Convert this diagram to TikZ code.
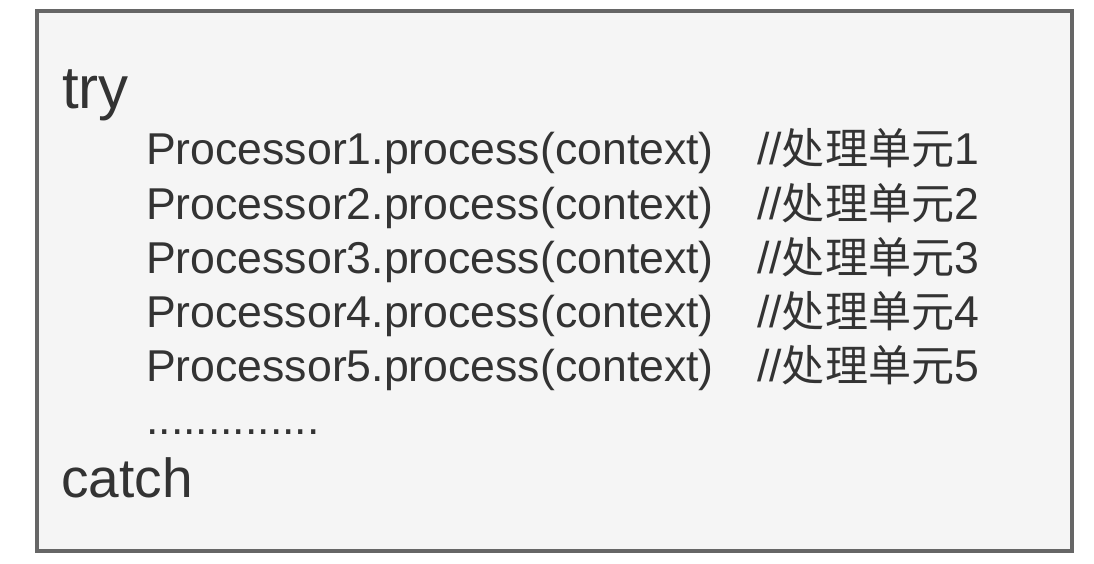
\documentclass[tikz,border=0pt]{standalone}
\usepackage{fontspec}
\usepackage{xcolor}
\setmainfont{Liberation Sans}
\newfontfamily\cjk[Scale=0.965]{Noto Sans CJK SC}
\definecolor{boxfill}{HTML}{F5F5F5}
\definecolor{boxline}{HTML}{666666}
\definecolor{codetext}{HTML}{333333}

\begin{document}
\begin{tikzpicture}[x=1pt,y=-1pt,
    code/.style={anchor=base west,inner sep=0pt,text=codetext,font=\fontsize{44.6}{54}\selectfont},
    keyword/.style={anchor=base west,inner sep=0pt,text=codetext}]
    \useasboundingbox (0,0) rectangle (1094,564);
    \draw[draw=boxline,fill=boxfill,line width=4pt] (37,11) rectangle (1072,551);

    \node[keyword,font=\fontsize{60}{60}\selectfont] (try) at (62,108.3) {try};
    \node[code] (p1) at (146,165) {Processor1.process(context)};
    \node[code] (p2) at (146,219.2) {Processor2.process(context)};
    \node[code] (p3) at (146,273.4) {Processor3.process(context)};
    \node[code] (p4) at (146,327.6) {Processor4.process(context)};
    \node[code] (p5) at (146,381.7) {Processor5.process(context)};
    \node[code] (dots) at (146,434) {..............};
    \node[keyword,font=\fontsize{55}{55}\selectfont] (catch) at (61,497.3) {catch};

    \node[code] (c1) at (757,165) {//{\cjk 处理单元}1};
    \node[code] (c2) at (757,219.2) {//{\cjk 处理单元}2};
    \node[code] (c3) at (757,273.4) {//{\cjk 处理单元}3};
    \node[code] (c4) at (757,327.6) {//{\cjk 处理单元}4};
    \node[code] (c5) at (757,381.7) {//{\cjk 处理单元}5};
\end{tikzpicture}
\end{document}
